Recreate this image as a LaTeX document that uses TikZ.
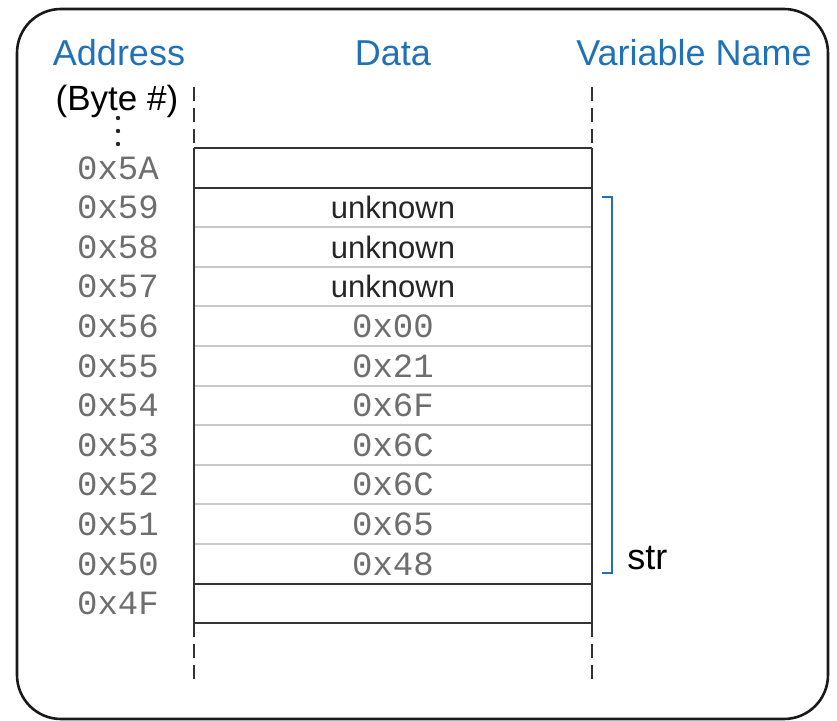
\documentclass[tikz,border=0pt]{standalone}
\usepackage{fontspec}
\setmainfont{Liberation Sans}
\setmonofont{Liberation Mono}
\definecolor{hdrblue}{RGB}{31,113,184}
\definecolor{addrgray}{RGB}{110,110,110}
\definecolor{rulegray}{RGB}{200,200,200}
\begin{document}
\begin{tikzpicture}[x=0.5pt,y=-0.5pt,
    hdr/.style={text=hdrblue,font=\fontsize{18}{21}\selectfont,anchor=base},
    addr/.style={text=addrgray,font=\ttfamily\fontsize{17}{19}\selectfont},
    word/.style={text=black!85,font=\fontsize{15.5}{18}\selectfont},
    hexval/.style={text=addrgray,font=\ttfamily\fontsize{17}{19}\selectfont},
    darkrule/.style={line width=1pt,black!80},
    lightrule/.style={line width=1pt,rulegray},
    guide/.style={line width=1pt,black!80,dash pattern=on 7pt off 3.5pt}]
  \useasboundingbox (0,0) rectangle (837,721);
  % frame
  \draw[line width=1.3pt,black!90,rounded corners=22pt] (17,9) rectangle (828,719);
  % headers
  \node[hdr] (haddr) at (119,66) {Address};
  \node[hdr] (hdata) at (393,66) {Data};
  \node[hdr] (hvar) at (694,66) {Variable Name};
  \node[anchor=base,font=\fontsize{17.5}{20}\selectfont] (hbyte) at (117,111) {(Byte \#)};
  \foreach \y in {118,131,144}
    \fill[black!85] (118,\y) circle (2.2);
  % rows: address, data
  \foreach \k/\a/\d/\s in {0/5A//hexval,1/59/unknown/word,2/58/unknown/word,
      3/57/unknown/word,4/56/0x00/hexval,5/55/0x21/hexval,6/54/0x6F/hexval,
      7/53/0x6C/hexval,8/52/0x6C/hexval,9/51/0x65/hexval,10/50/0x48/hexval,
      11/4F//hexval} {
    \node[addr] (a\k) at (118,{148+39.6*(\k+0.5)}) {0x\a};
    \node[\s] (d\k) at (393,{148+39.6*(\k+0.5)}) {\d};
  }
  % cell rules
  \foreach \k in {2,...,10}
    \draw[lightrule] (194,{148+39.6*\k}) -- (592,{148+39.6*\k});
  \foreach \k in {0,1,11,12}
    \draw[darkrule] (194,{148+39.6*\k}) -- (592,{148+39.6*\k});
  \draw[darkrule] (194,148) -- (194,623.2);
  \draw[darkrule] (592,148) -- (592,623.2);
  % dashed guides
  \draw[guide] (194,87) -- (194,148);
  \draw[guide] (592,87) -- (592,148);
  \draw[guide] (194,623.2) -- (194,685);
  \draw[guide] (592,623.2) -- (592,685);
  % variable bracket
  \draw[line width=1pt,hdrblue] (602,197) -- (612,197) -- (612,573) -- (602,573);
  \node[anchor=base west,font=\fontsize{18}{21}\selectfont,inner sep=0pt] (vstr) at (627,570) {str};
\end{tikzpicture}
\end{document}
